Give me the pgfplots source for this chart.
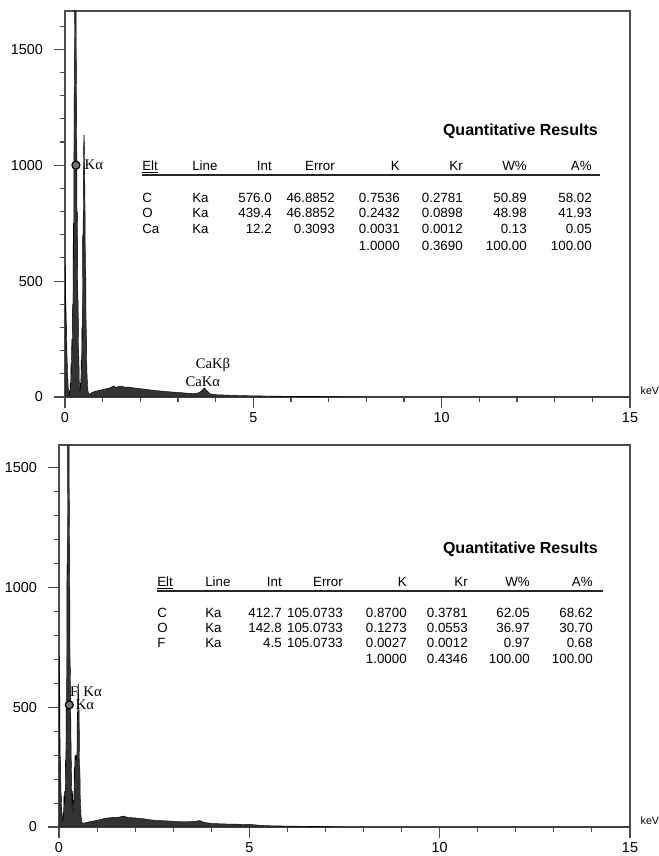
\documentclass[border=0pt]{standalone}
\usepackage{fontspec}
\setmainfont{Liberation Sans}
\newfontfamily\serif{Liberation Serif}
\usepackage{pgfplots}
\pgfplotsset{compat=1.18}

\pgfplotsset{eds/.style={
  scale only axis, xmin=0, xmax=15, ymin=0,
  tick pos=left, tick align=outside,
  xtick={0,5,10,15}, minor xtick={1,...,14},
  ytick={0,500,1000,1500}, minor ytick={100,200,...,1600},
  major tick length=8pt, minor tick length=4pt,
  tick label style={font=\fontsize{10.8}{12}\selectfont},
  yticklabel style={xshift=-5pt},
  /pgf/number format/assume math mode=true,
  /pgf/number format/1000 sep={},
  axis line style={black!70, line width=0.8pt},
  every tick/.style={black!70, line width=0.8pt},
}}
\tikzset{spec/.style={fill=black!80, draw=black, line width=0.3pt},
  pklab/.style={font=\serif\fontsize{11}{11}\selectfont, inner sep=1pt}}

% column positions of the results tables (px)
\newcommand\colpos[8]{\def\cA{#1}\def\cB{#2}\def\cC{#3}\def\cD{#4}\def\cE{#5}\def\cF{#6}\def\cG{#7}\def\cH{#8}}
\newcommand\trow[9]{%
  \node[anchor=base west] at (\cA,#1) {#2};
  \node[anchor=base west] at (\cB,#1) {#3};
  \node[anchor=base east] at (\cC,#1) {#4};
  \node[anchor=base east] at (\cD,#1) {#5};
  \node[anchor=base east] at (\cE,#1) {#6};
  \node[anchor=base east] at (\cF,#1) {#7};
  \node[anchor=base east] at (\cG,#1) {#8};
  \node[anchor=base east] at (\cH,#1) {#9};}

\begin{document}
\begin{tikzpicture}[x=0.75pt,y=-0.75pt]
\useasboundingbox (0,0) rectangle (658,856);

% ---- top spectrum
\begin{axis}[eds, at={(48.75pt,-297.75pt)}, anchor=south west,
  width=423.75pt, height=289.5pt, ymax=1665]
\addplot[spec] coordinates {
 (0,0) (0.003,560) (0.01,560) (0.015,430) (0.025,420) (0.03,330) (0.04,320)
 (0.05,200) (0.06,150) (0.07,90) (0.08,60) (0.09,30) (0.10,20) (0.11,10)
 (0.12,30) (0.13,15) (0.14,60) (0.15,40) (0.16,150) (0.17,100) (0.18,250)
 (0.19,200) (0.20,400) (0.21,350) (0.22,750) (0.23,600) (0.24,1200)
 (0.25,1450) (0.26,1900) (0.29,1900) (0.30,1450) (0.31,1200) (0.32,750)
 (0.33,800) (0.34,450) (0.35,400) (0.36,200) (0.37,160) (0.38,60) (0.39,40)
 (0.40,20) (0.41,60) (0.42,40) (0.43,160) (0.44,120) (0.45,300) (0.46,250)
 (0.47,700) (0.48,650) (0.49,1000) (0.50,1130) (0.51,1130) (0.52,1000)
 (0.53,860) (0.54,600) (0.55,580) (0.56,300) (0.57,280) (0.58,120)
 (0.59,80) (0.60,40) (0.62,18) (0.65,12) (0.70,18) (0.8,25) (0.9,28)
 (1.0,32) (1.1,36) (1.2,40) (1.3,48) (1.35,41) (1.4,45) (1.5,47) (1.6,42)
 (1.7,43) (1.8,40) (2.0,36) (2.2,32) (2.4,28) (2.6,25) (2.8,22) (3.0,20)
 (3.2,17) (3.4,15) (3.55,18) (3.65,30) (3.7,40) (3.75,30) (3.85,14)
 (4.0,10) (4.5,7) (5.0,5) (5.5,4) (6.0,3) (6.5,3) (7.0,2) (7.5,1) (8.0,0)
 (15,0)
} \closedcycle;
\addplot[only marks, mark=*, mark size=3pt,
  mark options={fill=black!55, draw=black, line width=0.9pt}]
  coordinates {(0.29,1000)};
\node[pklab, anchor=west] at (axis cs:0.48,1000) {Kα};
\node[pklab] at (axis cs:3.93,138) {CaKβ};
\node[pklab] at (axis cs:3.66,64) {CaKα};
\end{axis}

% ---- bottom spectrum
\begin{axis}[eds, at={(44.25pt,-620.25pt)}, anchor=south west,
  width=428.25pt, height=286.5pt, ymax=1595]
\addplot[spec] coordinates {
 (0,0) (0.003,710) (0.01,710) (0.015,600) (0.02,580) (0.03,300) (0.04,280)
 (0.05,150) (0.06,130) (0.07,70) (0.08,50) (0.09,30) (0.10,25) (0.11,60)
 (0.12,40) (0.13,130) (0.14,90) (0.15,150) (0.16,100) (0.17,280)
 (0.18,250) (0.19,520) (0.20,480) (0.21,1100) (0.22,1050) (0.23,1800)
 (0.26,1800) (0.27,1380) (0.28,1100) (0.29,700) (0.30,650) (0.31,450)
 (0.32,300) (0.33,220) (0.34,90) (0.35,150) (0.36,130) (0.37,60)
 (0.38,110) (0.39,100) (0.40,250) (0.41,200) (0.42,300) (0.43,280)
 (0.44,300) (0.45,280) (0.46,300) (0.47,280) (0.48,480) (0.49,450)
 (0.50,600) (0.51,590) (0.52,500) (0.53,480) (0.54,250) (0.55,240)
 (0.56,110) (0.57,80) (0.58,45) (0.60,20) (0.65,15) (0.70,18) (0.8,22)
 (0.9,25) (1.0,28) (1.1,32) (1.2,36) (1.3,38) (1.4,40) (1.5,40) (1.6,42)
 (1.7,46) (1.8,40) (2.0,38) (2.2,35) (2.4,30) (2.6,27) (2.8,26) (3.0,24)
 (3.2,22) (3.4,22) (3.6,24) (3.7,27) (3.8,20) (4.0,15) (4.3,13) (4.6,12)
 (5.0,11) (5.3,7) (5.6,5) (6.0,4) (6.5,3) (7.0,2) (7.2,1) (7.5,0) (15,0)
} \closedcycle;
\addplot[only marks, mark=*, mark size=3pt,
  mark options={fill=black!55, draw=black, line width=0.9pt}]
  coordinates {(0.27,510)};
\node[pklab] at (axis cs:0.40,565) {F};
\node[pklab, anchor=west] at (axis cs:0.60,565) {Kα};
\node[pklab, anchor=west] at (axis cs:0.40,510) {Kα};
\end{axis}

% ---- axis unit labels
\node[anchor=west, font=\fontsize{8}{8}\selectfont] at (636,391) {keV};
\node[anchor=west, font=\fontsize{8}{8}\selectfont] at (636,821) {keV};

% ---- results tables
\begin{scope}[every node/.style={font=\fontsize{10}{12}\selectfont, inner sep=0pt}]
\node[anchor=base east, font=\bfseries\fontsize{12}{12}\selectfont] at (598,135) {Quantitative Results};
\colpos{142}{192}{272}{335}{400}{463}{527}{592}
\trow{170}{\underline{Elt}}{Line}{Int}{Error}{K}{Kr}{W\%}{A\%}
\draw[line width=1.3pt, black!85] (142,175) -- (600,175);
\trow{202}{C}{Ka}{576.0}{46.8852}{0.7536}{0.2781}{50.89}{58.02}
\trow{217}{O}{Ka}{439.4}{46.8852}{0.2432}{0.0898}{48.98}{41.93}
\trow{233}{Ca}{Ka}{12.2}{0.3093}{0.0031}{0.0012}{0.13}{0.05}
\trow{250}{}{}{}{}{1.0000}{0.3690}{100.00}{100.00}

\node[anchor=base east, font=\bfseries\fontsize{12}{12}\selectfont] at (598,553) {Quantitative Results};
\colpos{157}{205}{282}{343}{407}{468}{530}{593}
\trow{586}{\underline{Elt}}{Line}{Int}{Error}{K}{Kr}{W\%}{A\%}
\draw[line width=1.3pt, black!85] (157,591) -- (603,591);
\trow{617}{C}{Ka}{412.7}{105.0733}{0.8700}{0.3781}{62.05}{68.62}
\trow{632}{O}{Ka}{142.8}{105.0733}{0.1273}{0.0553}{36.97}{30.70}
\trow{647}{F}{Ka}{4.5}{105.0733}{0.0027}{0.0012}{0.97}{0.68}
\trow{663}{}{}{}{}{1.0000}{0.4346}{100.00}{100.00}
\end{scope}
\end{tikzpicture}
\end{document}
